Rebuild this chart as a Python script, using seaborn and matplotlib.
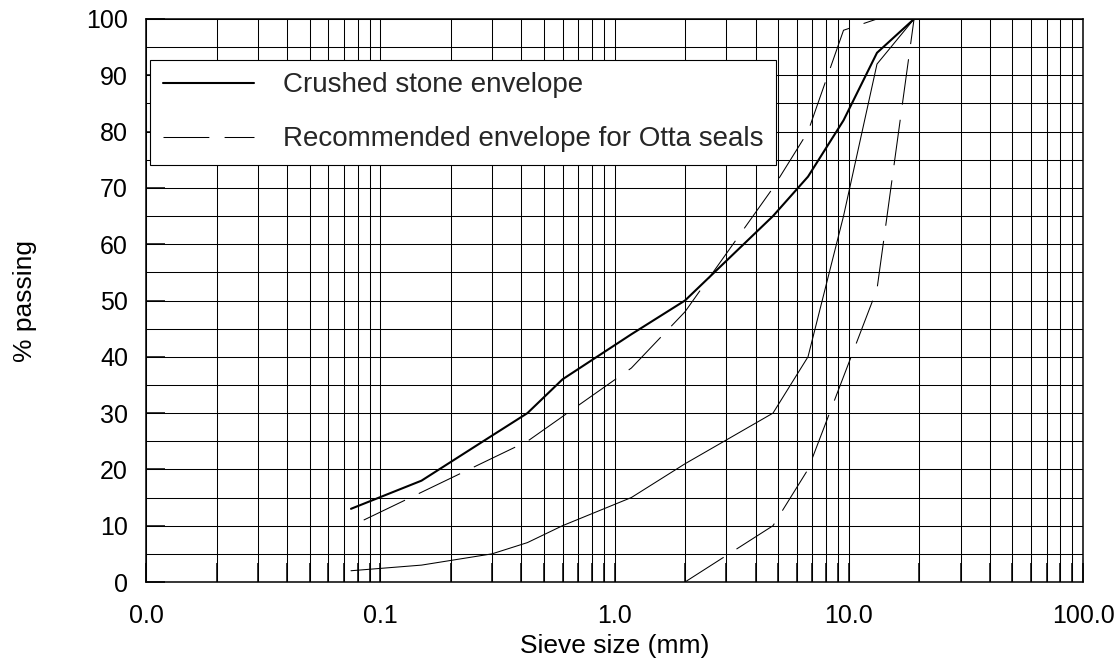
import numpy as np
import pandas as pd
import matplotlib
matplotlib.use("Agg")
import matplotlib.pyplot as plt
from matplotlib.ticker import FixedLocator, FixedFormatter, MultipleLocator, NullFormatter
import seaborn as sns

# ---- data ----
crushed_upper_x = [0.075, 0.15, 0.3, 0.425, 0.6, 1.18, 2.0, 4.75, 6.7, 9.5, 13.2, 19.0]
crushed_upper_y = [13, 18, 26, 30, 36, 44, 50, 65, 72, 82, 94, 100]

crushed_lower_x = [0.075, 0.15, 0.3, 0.425, 0.6, 1.18, 2.0, 4.75, 6.7, 9.5, 13.2, 19.0]
crushed_lower_y = [2, 3, 5, 7, 10, 15, 21, 30, 40, 65, 92, 100]

otta_upper_x = [0.085, 0.425, 1.18, 2.0, 4.75, 6.7, 9.5, 13.2, 19.0]
otta_upper_y = [11, 25, 38, 48, 70, 80, 98, 100, 100]

otta_lower_x = [2.0, 4.75, 6.7, 13.2, 19.0]
otta_lower_y = [0, 10, 20, 52, 100]

x_tick_values = [0.01, 0.1, 1, 10, 100]
x_tick_labels = ["0.0", "0.1", "1.0", "10.0", "100.0"]
y_tick_values = list(range(0, 101, 10))
legend_labels = ["Crushed stone envelope", "Recommended envelope for Otta seals"]

# ---- style ----
sns.set_theme(style="white")
plt.rcParams["font.family"] = ["Liberation Sans", "DejaVu Sans"]
plt.rcParams["lines.scale_dashes"] = False

W, H = 1119, 668
fig = plt.figure(figsize=(W / 100, H / 100), dpi=100)
ax = fig.add_axes([146 / W, 1 - 582 / H, 937 / W, 563 / H])
ax.set_xscale("log")

dash = (0, (33, 11))
sns.lineplot(x=crushed_upper_x, y=crushed_upper_y, ax=ax, color="black", lw=1.5,
             label=legend_labels[0], sort=False, estimator=None)
sns.lineplot(x=crushed_lower_x, y=crushed_lower_y, ax=ax, color="black", lw=0.75,
             sort=False, estimator=None)
sns.lineplot(x=otta_upper_x, y=otta_upper_y, ax=ax, color="black", lw=0.75,
             linestyle=dash, label=legend_labels[1], sort=False, estimator=None)
sns.lineplot(x=otta_lower_x, y=otta_lower_y, ax=ax, color="black", lw=0.75,
             linestyle=dash, sort=False, estimator=None)

ax.set_xlim(0.01, 100)
ax.set_ylim(0, 100)

ax.xaxis.set_major_locator(FixedLocator(x_tick_values))
ax.xaxis.set_major_formatter(FixedFormatter(x_tick_labels))
minor_x = [m * d for d in [0.01, 0.1, 1, 10] for m in range(2, 10)]
ax.xaxis.set_minor_locator(FixedLocator(minor_x))
ax.xaxis.set_minor_formatter(NullFormatter())
ax.yaxis.set_major_locator(FixedLocator(y_tick_values))
ax.yaxis.set_minor_locator(MultipleLocator(5))

ax.set_axisbelow(True)
ax.grid(True, which="both", axis="both", color="black", lw=0.75)

ax.tick_params(axis="x", which="both", direction="in", length=13.5, width=1.1,
               color="black", labelsize=18, pad=16, top=False, bottom=True)
ax.tick_params(axis="y", which="major", direction="in", length=13.5, width=1.1,
               color="black", labelsize=18, pad=13, left=True, right=False)
ax.tick_params(axis="y", which="minor", length=0)

for s in ax.spines.values():
    s.set_color("black")
    s.set_linewidth(1.1)
    s.set_visible(True)

ax.set_xlabel("Sieve size (mm)", fontsize=19, labelpad=4, color="black")
ax.set_ylabel("% passing", fontsize=19, labelpad=35, color="black")
for t in ax.get_xticklabels() + ax.get_yticklabels():
    t.set_color("black")

leg = ax.legend(loc="upper left", bbox_to_anchor=(4 / 937, (582 - 60) / 563),
                borderaxespad=0, fontsize=20, frameon=True, fancybox=False,
                framealpha=1, edgecolor="black", facecolor="white",
                handlelength=3.3, handletextpad=1.05, borderpad=0.45,
                labelspacing=1.0)
leg.get_frame().set_linewidth(0.8)

fig.savefig("out.png", dpi=100, facecolor="white")
